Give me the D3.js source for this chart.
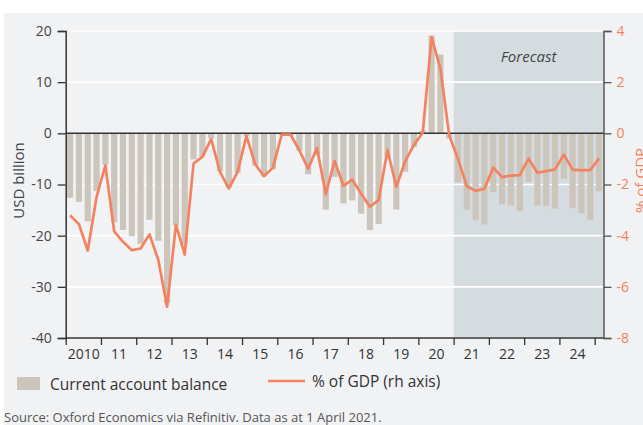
<!DOCTYPE html>
<html>
<head>
<meta charset="utf-8">
<script src="https://cdn.jsdelivr.net/npm/d3@7/dist/d3.min.js"></script>
<style>
  html, body { margin: 0; padding: 0; background: #ffffff; }
  svg { display: block; }
  text { font-family: "Open Sans", "Noto Sans", sans-serif; }
</style>
</head>
<body>
<svg id="chart" width="643" height="425"></svg>
<script>
// ---- data ----
const years = [2010, 2011, 2012, 2013, 2014, 2015, 2016, 2017, 2018, 2019, 2020, 2021, 2022, 2023, 2024, 2025];
const yearLabels = ["2010", "11", "12", "13", "14", "15", "16", "17", "18", "19", "20", "21", "22", "23", "24"];
const quarters = years.flatMap(yr => ["Q1", "Q2", "Q3", "Q4"].map(q => yr + q)).slice(0, 61);
const forecastStart = "2021Q1";

// Current account balance, USD billion
const balance = [
  -12.6, -13.4, -17.2, -11.3,
  -6.1, -17.4, -18.9, -20.1,
  -21.6, -16.9, -21.0, -33.2,
  -18.0, -21.7, -5.1, -4.5,
  -1.0, -7.4, -10.6, -7.7,
  -0.6, -6.3, -8.4, -7.0,
  -0.4, -0.5, -3.4, -8.0,
  -4.3, -14.9, -8.5, -13.7,
  -13.1, -15.7, -18.9, -17.7,
  -4.5, -14.9, -7.5, -2.7,
  0.5, 19.1, 15.4, -1.0,
  -9.6, -14.9, -17.0, -17.8,
  -11.5, -13.9, -14.1, -15.2,
  -9.5, -14.1, -14.2, -14.7,
  -8.9, -14.6, -15.6, -16.9,
  -11.3
];
// % of GDP (rh axis)
const pctGDP = [
  -3.2, -3.55, -4.58, -2.49,
  -1.25, -3.83, -4.24, -4.57,
  -4.5, -3.95, -4.94, -6.78,
  -3.57, -4.74, -1.18, -0.92,
  -0.23, -1.51, -2.16, -1.51,
  -0.1, -1.22, -1.67, -1.35,
  -0.05, -0.05, -0.66, -1.38,
  -0.57, -2.38, -1.08, -2.05,
  -1.81, -2.35, -2.87, -2.61,
  -0.65, -2.09, -1.1, -0.45,
  0.03, 3.76, 2.53, -0.08,
  -1.0, -2.07, -2.25, -2.16,
  -1.34, -1.71, -1.65, -1.63,
  -0.99, -1.54, -1.48, -1.41,
  -0.83, -1.42, -1.45, -1.43,
  -0.99
];
const leftTicks = [20, 10, 0, -10, -20, -30, -40];
const rightTicks = [4, 2, 0, -2, -4, -6, -8];

// ---- layout ----
const svg = d3.select("#chart");
const W = 643, H = 425;
const pL = 65.7, pR = 603.5, pT = 31, pB = 338;
const barColor = "#cbc5bb";
const lineColor = "#f4825f";
const axisColor = "#333333";

// background panel
svg.append("rect").attr("x", 4).attr("y", 13).attr("width", W - 4).attr("height", H - 13).attr("fill", "#f1f2f4");

const x = d3.scaleBand().domain(quarters).range([pL, pR]).paddingInner(0.3).paddingOuter(0.15);
const xq = d3.scaleLinear().domain([0, quarters.length]).range([pL, pR]);
const y = d3.scaleLinear().domain([-40, 20]).range([pB, pT]);
const y2 = d3.scaleLinear().domain([-8, 4]).range([pB, pT]);

// forecast shading
const fx = xq(quarters.indexOf(forecastStart));
svg.append("rect").attr("x", fx).attr("y", pT).attr("width", pR - fx).attr("height", pB - pT).attr("fill", "#d5dce0");

// gridlines
svg.append("g").selectAll("line").data(leftTicks.filter(d => d !== 0)).join("line")
  .attr("x1", pL).attr("x2", pR).attr("y1", d => y(d)).attr("y2", d => y(d))
  .attr("stroke", "#ffffff").attr("stroke-width", 1.6);

// Forecast label
svg.append("text").attr("x", (fx + pR) / 2).attr("y", 62).attr("text-anchor", "middle")
  .attr("font-size", 15).attr("font-style", "italic").attr("fill", "#444").text("Forecast");

// bars
svg.append("g").selectAll("rect").data(balance).join("rect")
  .attr("x", (d, i) => x(quarters[i]))
  .attr("width", x.bandwidth())
  .attr("y", d => y(Math.max(0, d)))
  .attr("height", d => Math.abs(y(d) - y(0)))
  .attr("fill", barColor);

// zero line
svg.append("line").attr("x1", pL).attr("x2", pR).attr("y1", y(0)).attr("y2", y(0))
  .attr("stroke", axisColor).attr("stroke-width", 1.5);

// line
const line = d3.line().x((d, i) => x(quarters[i]) + x.bandwidth() / 2).y(d => y2(d));
svg.append("path").datum(pctGDP).attr("d", line).attr("fill", "none")
  .attr("stroke", lineColor).attr("stroke-width", 2.7).attr("stroke-linejoin", "round");

// left axis
const gL = svg.append("g").attr("transform", `translate(${pL},0)`)
  .call(d3.axisLeft(y).tickValues(leftTicks).tickSize(8).tickPadding(6).tickFormat(d => String(d)));
gL.select(".domain").attr("stroke", axisColor).attr("stroke-width", 1.5);
gL.selectAll(".tick line").attr("stroke", axisColor).attr("stroke-width", 1.3);
gL.selectAll(".tick text").attr("font-size", 14).attr("fill", "#444").attr("font-family", "Open Sans");

// right axis
const gR = svg.append("g").attr("transform", `translate(${pR},0)`)
  .call(d3.axisRight(y2).tickValues(rightTicks).tickSize(8).tickPadding(5).tickFormat(d => String(d)));
gR.select(".domain").attr("stroke", "#555").attr("stroke-width", 1.5);
gR.selectAll(".tick line").attr("stroke", "#555").attr("stroke-width", 1.3);
gR.selectAll(".tick text").attr("font-size", 14).attr("fill", lineColor).attr("font-family", "Open Sans");

// bottom axis: year boundary ticks
const gB = svg.append("g").attr("transform", `translate(0,${pB})`)
  .call(d3.axisBottom(xq).tickValues(d3.range(0, quarters.length, 4)).tickSize(7).tickFormat(""));
gB.select(".domain").attr("stroke", axisColor).attr("stroke-width", 1.5).attr("d", `M${pL},0H${pR}`);
gB.selectAll(".tick line").attr("stroke", axisColor).attr("stroke-width", 1.3);

// bottom labels centred in each year
const gBL = svg.append("g").attr("transform", `translate(0,${pB})`)
  .call(d3.axisBottom(xq).tickValues(yearLabels.map((d, i) => i * 4 + 2)).tickSize(0).tickPadding(11)
    .tickFormat((d, i) => yearLabels[i]));
gBL.select(".domain").remove();
gBL.selectAll(".tick text").attr("font-size", 14).attr("fill", "#333").attr("font-family", "Open Sans");

// axis titles
svg.append("text").attr("transform", `translate(24,${(pT + pB) / 2 - 4}) rotate(-90)`)
  .attr("text-anchor", "middle").attr("font-size", 15).attr("fill", "#444").text("USD billion");
svg.append("text").attr("transform", `translate(646,${(pT + pB) / 2 - 4}) rotate(-90)`)
  .attr("text-anchor", "middle").attr("font-size", 15).attr("fill", lineColor).text("% of GDP");

// legend
svg.append("rect").attr("x", 17).attr("y", 377).attr("width", 23).attr("height", 13).attr("fill", barColor);
svg.append("text").attr("x", 50).attr("y", 390).attr("font-size", 15.5).attr("fill", "#333").text("Current account balance");
svg.append("line").attr("x1", 268).attr("x2", 305).attr("y1", 381).attr("y2", 381)
  .attr("stroke", lineColor).attr("stroke-width", 2.7);
svg.append("text").attr("x", 312).attr("y", 387).attr("font-size", 15.5).attr("fill", "#333").text("% of GDP (rh axis)");

// source
svg.append("text").attr("x", 4).attr("y", 422).attr("font-size", 13).attr("fill", "#555")
  .text("Source: Oxford Economics via Refinitiv. Data as at 1 April 2021.");
</script>
</body>
</html>
